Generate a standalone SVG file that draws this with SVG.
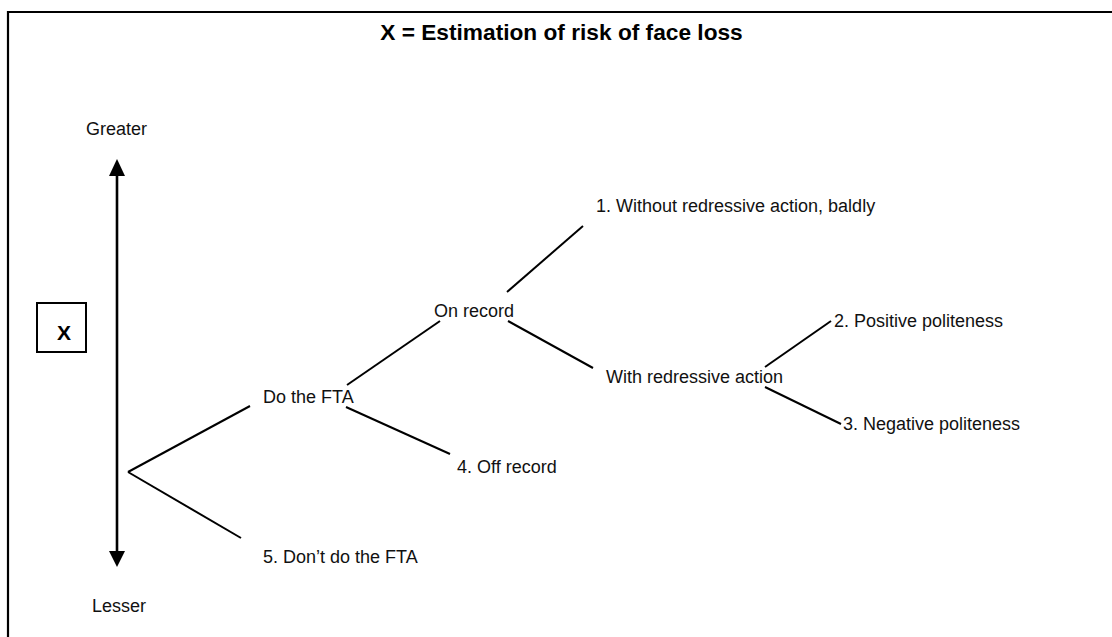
<svg xmlns="http://www.w3.org/2000/svg" width="1112" height="637" viewBox="0 0 1112 637">
  <style>
    .lbl { font-family: "Liberation Sans", Arial, sans-serif; font-size: 18px; fill: #111; }
    .bold { font-family: "Liberation Sans", Arial, sans-serif; font-weight: bold; fill: #000; }
    .edge { stroke: #000; stroke-width: 2; fill: none; }
  </style>
  <rect width="1112" height="637" fill="#fff"/>
  <!-- frame -->
  <path d="M8,650 V12 H1120" stroke="#000" stroke-width="2.2" fill="none"/>
  <text class="bold" x="561.5" y="40" font-size="22.7" text-anchor="middle">X = Estimation of risk of face loss</text>

  <g id="axis">
    <line x1="117" y1="172" x2="117" y2="554" stroke="#000" stroke-width="2.6"/>
    <path d="M117,159 L109,176 L125,176 Z" fill="#000"/>
    <path d="M117,567 L109,551 L125,551 Z" fill="#000"/>
    <text class="lbl" x="86" y="135">Greater</text>
    <text class="lbl" x="92" y="612">Lesser</text>
  </g>

  <g id="x-box">
    <rect x="37" y="303" width="49" height="49" fill="none" stroke="#000" stroke-width="2"/>
    <text class="bold" x="64" y="340" font-size="21" text-anchor="middle">X</text>
  </g>

  <g id="connectors">
    <line class="edge" x1="128" y1="472" x2="250" y2="406"/>
    <line class="edge" x1="128" y1="472" x2="241" y2="538"/>
    <line class="edge" x1="347" y1="385" x2="440" y2="321"/>
    <line class="edge" x1="346" y1="407" x2="450" y2="454"/>
    <line class="edge" x1="507" y1="292" x2="583" y2="226"/>
    <line class="edge" x1="508" y1="321" x2="593" y2="368"/>
    <line class="edge" x1="765" y1="367" x2="831" y2="321"/>
    <line class="edge" x1="765" y1="387" x2="841" y2="424"/>
  </g>

  <g id="node-do"><text class="lbl" x="263" y="403">Do the FTA</text></g>
  <g id="node-dont"><text class="lbl" x="263" y="563">5. Don’t do the FTA</text></g>
  <g id="node-on"><text class="lbl" x="434" y="317">On record</text></g>
  <g id="node-off"><text class="lbl" x="457" y="473">4. Off record</text></g>
  <g id="node-without"><text class="lbl" x="596" y="212">1. Without redressive action, baldly</text></g>
  <g id="node-with"><text class="lbl" x="606" y="383">With redressive action</text></g>
  <g id="node-pos"><text class="lbl" x="834" y="327">2. Positive politeness</text></g>
  <g id="node-neg"><text class="lbl" x="843" y="430">3. Negative politeness</text></g>
</svg>
